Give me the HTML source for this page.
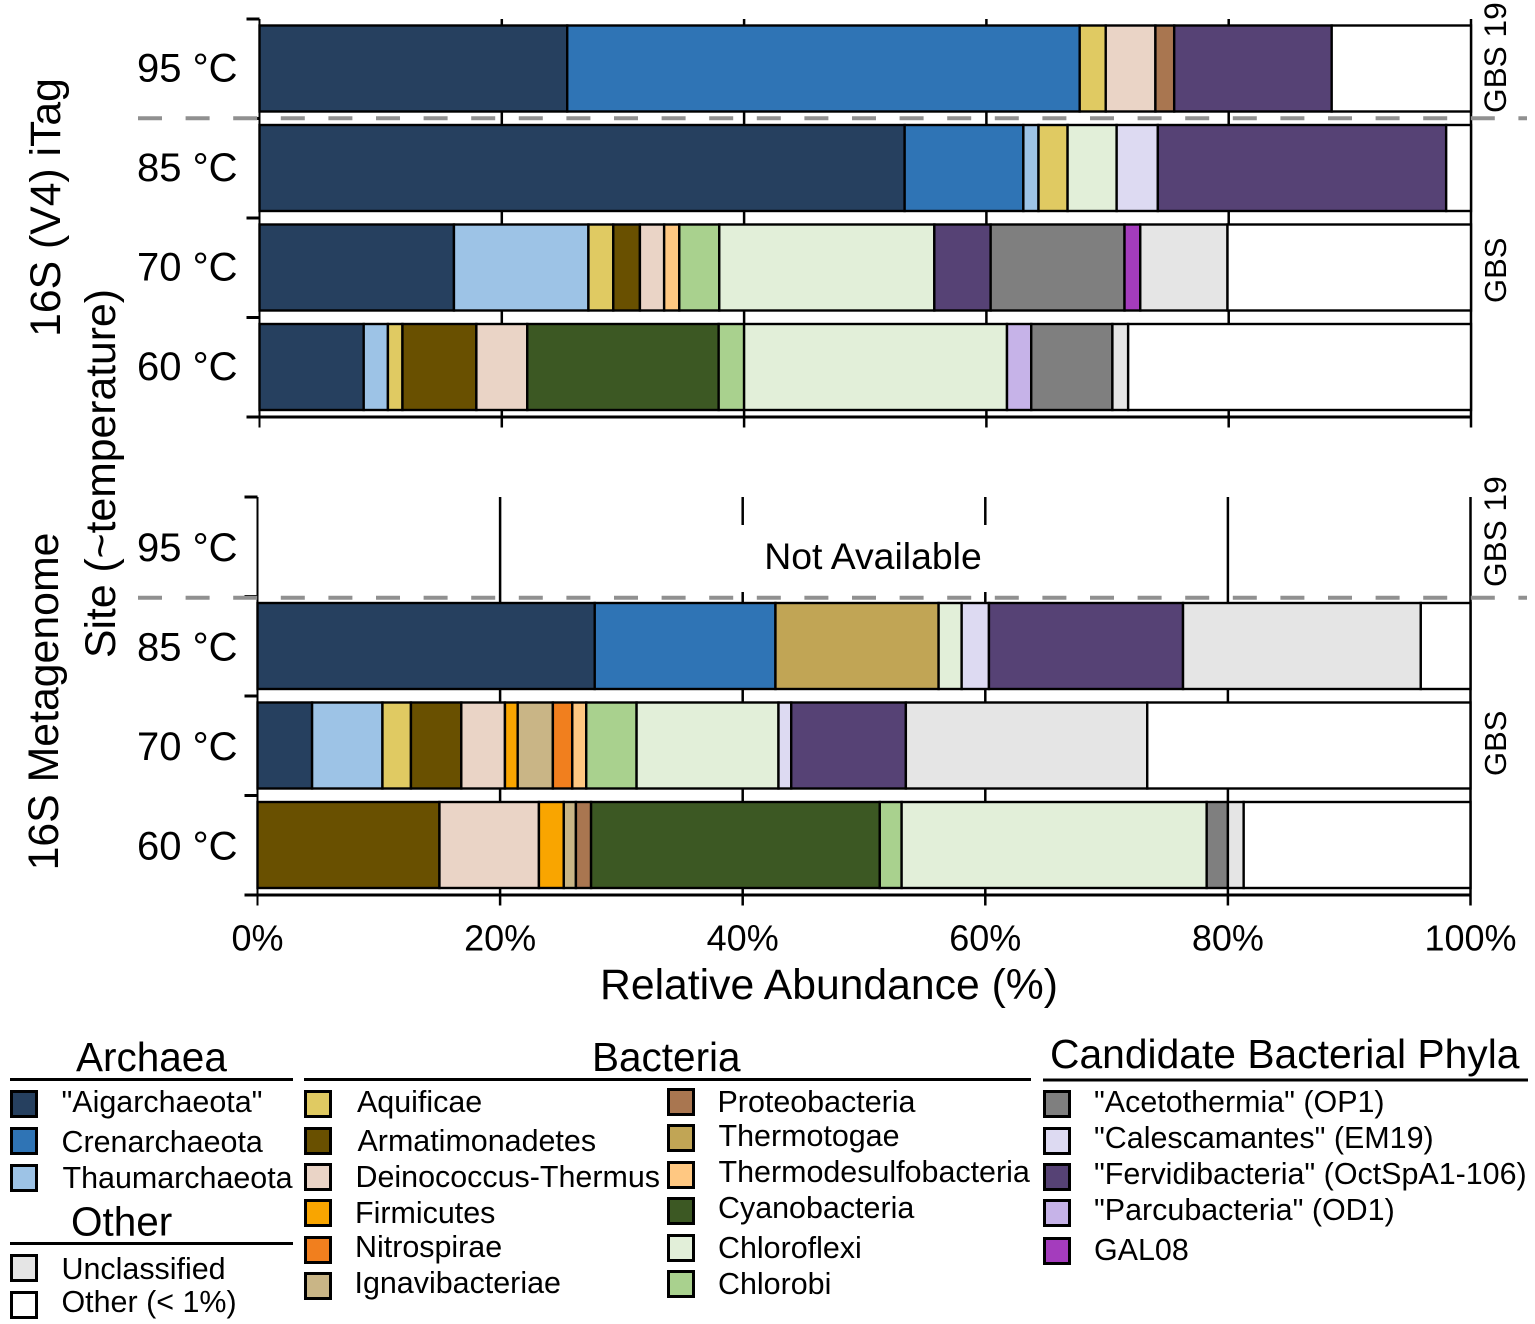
<!DOCTYPE html>
<html lang="en">
<head>
<meta charset="utf-8">
<title>Relative abundance by site and temperature</title>
<style>
html,body{margin:0;padding:0;background:#fff;}
svg{display:block;}
text{font-family:"Liberation Sans",sans-serif;fill:#000;}
.lg{font-size:30.45px;}
.hd{font-size:40.5px;}
.sw{stroke:#000;stroke-width:3;}
.rule{stroke:#000;stroke-width:3;}
</style>
</head>
<body>
<svg id="chart" xmlns="http://www.w3.org/2000/svg" width="1535" height="1324" viewBox="0 0 1535 1324">
  <rect x="0" y="0" width="1535" height="1324" fill="#fff"/>
  <g id="top-panel"></g>
  <g id="bottom-panel"></g>

  <rect x="600" y="525" width="500" height="67" fill="#fff"/>
  <text x="873" y="569" font-size="37.4" text-anchor="middle">Not Available</text>

  <line x1="138" y1="118.3" x2="1527" y2="118.3" stroke="#909090" stroke-width="4" stroke-dasharray="24 23.6"/>
  <line x1="138" y1="597.7" x2="1527" y2="597.7" stroke="#909090" stroke-width="4" stroke-dasharray="24 23.6"/>

  <text x="829" y="999" font-size="42.7" text-anchor="middle">Relative Abundance (%)</text>
  <text transform="translate(60 207.5) rotate(-90)" font-size="42.7" text-anchor="middle">16S (V4) iTag</text>
  <text transform="translate(58 701.5) rotate(-90)" font-size="42.8" text-anchor="middle">16S Metagenome</text>
  <text transform="translate(115 473.5) rotate(-90)" font-size="42.7" text-anchor="middle">Site (~temperature)</text>

  <text transform="translate(1506 113) rotate(-90)" font-size="31.6">GBS 19</text>
  <text transform="translate(1506 303) rotate(-90)" font-size="31">GBS</text>
  <text transform="translate(1506 587) rotate(-90)" font-size="31.6">GBS 19</text>
  <text transform="translate(1506 776) rotate(-90)" font-size="31">GBS</text>

  <g>
    <text class="hd" x="76" y="1071">Archaea</text>
    <line class="rule" x1="10" y1="1079.5" x2="293" y2="1079.5"/>
    <g><rect class="sw" x="11.5" y="1091.5" width="25" height="25" fill="#26405f"/><text class="lg" x="61.5" y="1112">"Aigarchaeota"</text></g>
    <g><rect class="sw" x="11.5" y="1128.5" width="25" height="25" fill="#2f74b5"/><text class="lg" x="61.5" y="1152">Crenarchaeota</text></g>
    <g><rect class="sw" x="11.5" y="1165.5" width="25" height="25" fill="#9dc3e6"/><text class="lg" x="62.5" y="1188">Thaumarchaeota</text></g>
  </g>
  <g>
    <text class="hd" x="71" y="1235.5">Other</text>
    <line class="rule" x1="10" y1="1243.5" x2="293" y2="1243.5"/>
    <g><rect class="sw" x="11.5" y="1255.5" width="25" height="25" fill="#e5e5e5"/><text class="lg" x="61.5" y="1279">Unclassified</text></g>
    <g><rect class="sw" x="11.5" y="1292.5" width="25" height="25" fill="#fff"/><text class="lg" x="61.5" y="1312">Other (&lt; 1%)</text></g>
  </g>
  <g>
    <text class="hd" x="592" y="1071">Bacteria</text>
    <line class="rule" x1="304" y1="1079.5" x2="1031" y2="1079.5"/>
    <g><rect class="sw" x="305.5" y="1091.5" width="25" height="25" fill="#e0ca62"/><text class="lg" x="357" y="1112">Aquificae</text></g>
    <g><rect class="sw" x="305.5" y="1128.5" width="25" height="25" fill="#695000"/><text class="lg" x="357.5" y="1151">Armatimonadetes</text></g>
    <g><rect class="sw" x="305.5" y="1164.5" width="25" height="25" fill="#ead4c6"/><text class="lg" x="355.5" y="1187">Deinococcus-Thermus</text></g>
    <g><rect class="sw" x="305.5" y="1200.5" width="25" height="25" fill="#f9a500"/><text class="lg" x="355" y="1223">Firmicutes</text></g>
    <g><rect class="sw" x="305.5" y="1237.5" width="25" height="25" fill="#f17f1e"/><text class="lg" x="355" y="1257">Nitrospirae</text></g>
    <g><rect class="sw" x="305.5" y="1273.5" width="25" height="25" fill="#c9b586"/><text class="lg" x="354.5" y="1293">Ignavibacteriae</text></g>
    <g><rect class="sw" x="668.5" y="1089.5" width="25" height="25" fill="#a97650"/><text class="lg" x="717.5" y="1112">Proteobacteria</text></g>
    <g><rect class="sw" x="668.5" y="1125.5" width="25" height="25" fill="#c1a555"/><text class="lg" x="718.5" y="1146">Thermotogae</text></g>
    <g><rect class="sw" x="668.5" y="1162.5" width="25" height="25" fill="#ffc882"/><text class="lg" x="718.5" y="1182">Thermodesulfobacteria</text></g>
    <g><rect class="sw" x="668.5" y="1198.5" width="25" height="25" fill="#3c5823"/><text class="lg" x="718" y="1218">Cyanobacteria</text></g>
    <g><rect class="sw" x="668.5" y="1235.5" width="25" height="25" fill="#e2efd9"/><text class="lg" x="718" y="1258">Chloroflexi</text></g>
    <g><rect class="sw" x="668.5" y="1271.5" width="25" height="25" fill="#a9d18e"/><text class="lg" x="718" y="1294">Chlorobi</text></g>
  </g>
  <g>
    <text x="1050" y="1068" style="font-size:40.8px">Candidate Bacterial Phyla</text>
    <line class="rule" x1="1043" y1="1080" x2="1528" y2="1080"/>
    <g><rect class="sw" x="1044.5" y="1091.5" width="25" height="25" fill="#7f7f7f"/><text class="lg" x="1094" y="1112">"Acetothermia" (OP1)</text></g>
    <g><rect class="sw" x="1044.5" y="1128.5" width="25" height="25" fill="#dddaf2"/><text class="lg" x="1094" y="1148">"Calescamantes" (EM19)</text></g>
    <g><rect class="sw" x="1044.5" y="1164.5" width="25" height="25" fill="#564275"/><text class="lg" x="1094" y="1184">"Fervidibacteria" (OctSpA1-106)</text></g>
    <g><rect class="sw" x="1044.5" y="1200.5" width="25" height="25" fill="#c6b3e8"/><text class="lg" x="1094" y="1220">"Parcubacteria" (OD1)</text></g>
    <g><rect class="sw" x="1044.5" y="1238.5" width="25" height="25" fill="#a43cbd"/><text class="lg" x="1094" y="1260">GAL08</text></g>
  </g>
</svg>

<script>
const xTickValues = [0, 20, 40, 60, 80, 100];
const xTickLabels = ["0%", "20%", "40%", "60%", "80%", "100%"];
const temperatureLabels = ["95 °C", "85 °C", "70 °C", "60 °C"];

const itag95Taxa = ["aigarchaeota", "crenarchaeota", "aquificae", "deinococcus", "proteobacteria", "fervidibacteria", "other"];
const itag95Values = [25.4, 42.3, 2.15, 4.1, 1.55, 13.0, 11.5];

const itag85Taxa = ["aigarchaeota", "crenarchaeota", "thaumarchaeota", "aquificae", "chloroflexi", "calescamantes", "fervidibacteria", "other"];
const itag85Values = [53.25, 9.8, 1.25, 2.4, 4.05, 3.4, 23.8, 2.05];

const itag70Taxa = ["aigarchaeota", "thaumarchaeota", "aquificae", "armatimonadetes", "deinococcus", "thermodesulfobacteria", "chlorobi", "chloroflexi", "fervidibacteria", "acetothermia", "gal08", "unclassified", "other"];
const itag70Values = [16.05, 11.1, 2.05, 2.2, 2.0, 1.25, 3.3, 17.75, 4.65, 11.05, 1.3, 7.2, 20.1];

const itag60Taxa = ["aigarchaeota", "thaumarchaeota", "aquificae", "armatimonadetes", "deinococcus", "cyanobacteria", "chlorobi", "chloroflexi", "parcubacteria", "acetothermia", "unclassified", "other"];
const itag60Values = [8.6, 2.0, 1.2, 6.1, 4.2, 15.8, 2.1, 21.7, 2.0, 6.7, 1.3, 28.3];

const meta85Taxa = ["aigarchaeota", "crenarchaeota", "thermotogae", "chloroflexi", "calescamantes", "fervidibacteria", "unclassified", "other"];
const meta85Values = [27.8, 14.9, 13.45, 1.9, 2.25, 16.0, 19.6, 4.1];

const meta70Taxa = ["aigarchaeota", "thaumarchaeota", "aquificae", "armatimonadetes", "deinococcus", "firmicutes", "ignavibacteriae", "nitrospirae", "thermodesulfobacteria", "chlorobi", "chloroflexi", "calescamantes", "fervidibacteria", "unclassified", "other"];
const meta70Values = [4.5, 5.8, 2.35, 4.15, 3.6, 1.05, 2.9, 1.6, 1.15, 4.15, 11.7, 1.05, 9.45, 19.9, 26.65];

const meta60Taxa = ["armatimonadetes", "deinococcus", "firmicutes", "ignavibacteriae", "proteobacteria", "cyanobacteria", "chlorobi", "chloroflexi", "acetothermia", "unclassified", "other"];
const meta60Values = [15.0, 8.2, 2.05, 1.0, 1.25, 23.8, 1.8, 25.15, 1.75, 1.3, 18.7];

const taxonColors = {
  aigarchaeota: "#26405f", crenarchaeota: "#2f74b5", thaumarchaeota: "#9dc3e6",
  aquificae: "#e0ca62", armatimonadetes: "#695000", deinococcus: "#ead4c6",
  firmicutes: "#f9a500", nitrospirae: "#f17f1e", ignavibacteriae: "#c9b586",
  proteobacteria: "#a97650", thermotogae: "#c1a555", thermodesulfobacteria: "#ffc882",
  cyanobacteria: "#3c5823", chloroflexi: "#e2efd9", chlorobi: "#a9d18e",
  acetothermia: "#7f7f7f", calescamantes: "#dddaf2", fervidibacteria: "#564275",
  parcubacteria: "#c6b3e8", gal08: "#a43cbd", unclassified: "#e5e5e5", other: "#ffffff"
};

const SVG_NS = "http://www.w3.org/2000/svg";

function make(tag, parent, attrs, text) {
  const node = document.createElementNS(SVG_NS, tag);
  for (const key in attrs) node.setAttribute(key, attrs[key]);
  if (text !== undefined) node.textContent = text;
  parent.appendChild(node);
  return node;
}

function drawPanel(parent, cfg) {
  const xScale = function (v) { return cfg.x0 + (v / 100) * (cfg.x1 - cfg.x0); };
  const rowTop = function (i) { return cfg.barTop + i * cfg.step; };
  const boundary = function (i) { return cfg.axisTop + i * cfg.step; };

  xTickValues.forEach(function (v, i) {
    const tick = make("line", parent, { x1: xScale(v), x2: xScale(v), y1: cfg.axisTop, y2: cfg.axisBottom + 10.5, stroke: "#000", "stroke-width": i === 0 ? 2 : 2.5 });
    
    
  });

  for (let i = 0; i < 5; i++) {
    const yTick = make("line", parent, { x1: cfg.x0 - 13, x2: cfg.x0, y1: boundary(i), y2: boundary(i), stroke: "#000", "stroke-width": 3 });
    
    
  }

  const baseline = make("line", parent, { x1: cfg.x0 - 13, x2: cfg.x1, y1: cfg.axisBottom, y2: cfg.axisBottom, stroke: "#000", "stroke-width": 3 });
  
  

  cfg.rows.forEach(function (row) {
    let cumulative = 0;
    row.values.forEach(function (value, j) {
      const taxon = row.taxa[j];
      const bar = make("rect", parent, {
        x: xScale(cumulative),
        y: rowTop(row.index),
        width: xScale(cumulative + value) - xScale(cumulative),
        height: cfg.barHeight,
        fill: taxonColors[taxon],
        stroke: "#000",
        "stroke-width": 2.4
      });
      
      
      cumulative += value;
    });
  });

  temperatureLabels.forEach(function (label, i) {
    const labelNode = make("text", parent, { x: 137, y: cfg.labelBase + i * cfg.step, "font-size": 40 }, label);
    
    
  });

  if (cfg.showTickLabels) {
    xTickLabels.forEach(function (label, i) {
      const tickLabel = make("text", parent, { x: xScale(xTickValues[i]), y: 950.5, "font-size": 36, "text-anchor": "middle" }, label);
      
      
    });
  }
}

drawPanel(document.getElementById("top-panel"), {
  x0: 259.5, x1: 1471, axisTop: 19, axisBottom: 417, step: 99.5,
  barTop: 25.5, barHeight: 86, labelBase: 81.5, showTickLabels: false,
  rows: [
    { index: 0, taxa: itag95Taxa, values: itag95Values },
    { index: 1, taxa: itag85Taxa, values: itag85Values },
    { index: 2, taxa: itag70Taxa, values: itag70Values },
    { index: 3, taxa: itag60Taxa, values: itag60Values }
  ]
});

drawPanel(document.getElementById("bottom-panel"), {
  x0: 257.5, x1: 1470.5, axisTop: 497, axisBottom: 895, step: 99.5,
  barTop: 503.5, barHeight: 86, labelBase: 561, showTickLabels: true,
  rows: [
    { index: 1, taxa: meta85Taxa, values: meta85Values },
    { index: 2, taxa: meta70Taxa, values: meta70Values },
    { index: 3, taxa: meta60Taxa, values: meta60Values }
  ]
});
</script>
</body>
</html>
